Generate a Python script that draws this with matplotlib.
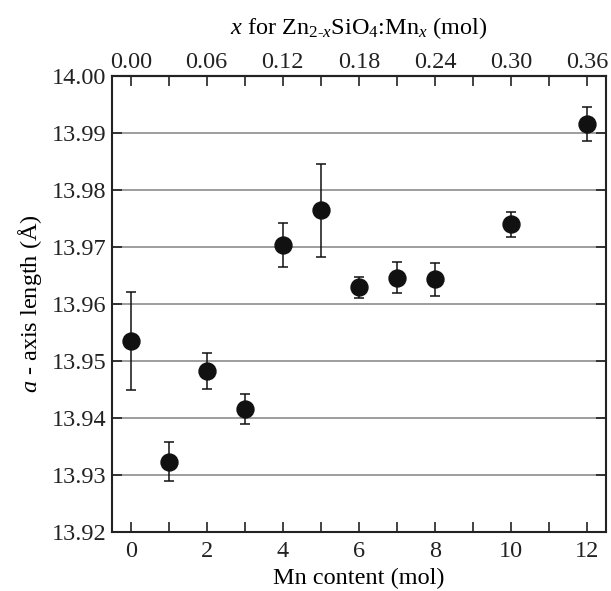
import numpy as np
import matplotlib
matplotlib.use('Agg')
import matplotlib.pyplot as plt

plt.rcParams['font.family'] = ['Liberation Serif', 'DejaVu Serif']
plt.rcParams['mathtext.fontset'] = 'custom'
plt.rcParams['mathtext.rm'] = 'Liberation Serif'
plt.rcParams['mathtext.it'] = 'Liberation Serif:italic'

# Mn content (mol) and refined a-axis length (Angstrom) with errors
mn_content = [0, 1, 2, 3, 4, 5, 6, 7, 8, 10, 12]
a_axis = [13.9535, 13.9323, 13.9482, 13.9415, 13.9703, 13.9764,
          13.9629, 13.9646, 13.9643, 13.9740, 13.9916]
a_err = [0.0086, 0.0034, 0.0031, 0.0026, 0.0039, 0.0082,
         0.0018, 0.0027, 0.0029, 0.0022, 0.0030]

x_ticks = list(range(0, 13, 2))
top_ticks = [0.00, 0.06, 0.12, 0.18, 0.24, 0.30, 0.36]
y_ticks = [13.92, 13.93, 13.94, 13.95, 13.96, 13.97, 13.98, 13.99, 14.00]

fs = 17.5
axis_color = '#222222'

fig = plt.figure(figsize=(6.11, 5.91), dpi=100)
ax = fig.add_axes([0.1828, 0.1003, 0.809, 0.7711])

for y in y_ticks[1:-1]:
    ax.axhline(y, color='#8c8c8c', linewidth=1.2, zorder=1)

ax.errorbar(mn_content, a_axis, yerr=a_err, fmt='o', color='#111111',
            markersize=12.2, ecolor='#111111', elinewidth=1.1,
            capsize=3.5, capthick=1.1, zorder=3)

ax.set_xlim(-0.5, 12.5)
ax.set_ylim(13.92, 14.00)
ax.set_xticks(range(0, 13))
ax.set_xticklabels([str(i) if i in x_ticks else '' for i in range(0, 13)])
ax.set_yticks(y_ticks)
ax.set_yticklabels(['%.2f' % y for y in y_ticks])
ax.tick_params(axis='both', direction='in', length=7, width=1.2,
               labelsize=fs, colors=axis_color, right=True, pad=7)
ax.tick_params(axis='y', pad=4)
for s in ax.spines.values():
    s.set_linewidth(1.5)
    s.set_color(axis_color)

ax.set_xlabel('Mn content (mol)', fontsize=fs, labelpad=4)
ax.set_ylabel(r'$a$ - axis length (Å)', fontsize=fs, labelpad=5)

# top axis: x in Zn(2-x)SiO4:Mn(x), i.e. Mn content * 0.03
top = ax.secondary_xaxis('top', functions=(lambda v: v * 0.03, lambda v: v / 0.03))
top.set_xticks(np.arange(0, 0.37, 0.03))
top.set_xticklabels(['%.2f' % t if any(abs(t - k) < 1e-6 for k in top_ticks) else ''
                     for t in np.arange(0, 0.37, 0.03)])
top.tick_params(direction='in', length=7, width=1.2, labelsize=fs,
                colors=axis_color, pad=2)
top.spines['top'].set_linewidth(1.5)
top.spines['top'].set_color(axis_color)
top.set_xlabel(r'$x$ for Zn$_{2\text{-}x}$SiO$_4$:Mn$_x$ (mol)', fontsize=fs, labelpad=13)

fig.savefig('out.png', dpi=100)
